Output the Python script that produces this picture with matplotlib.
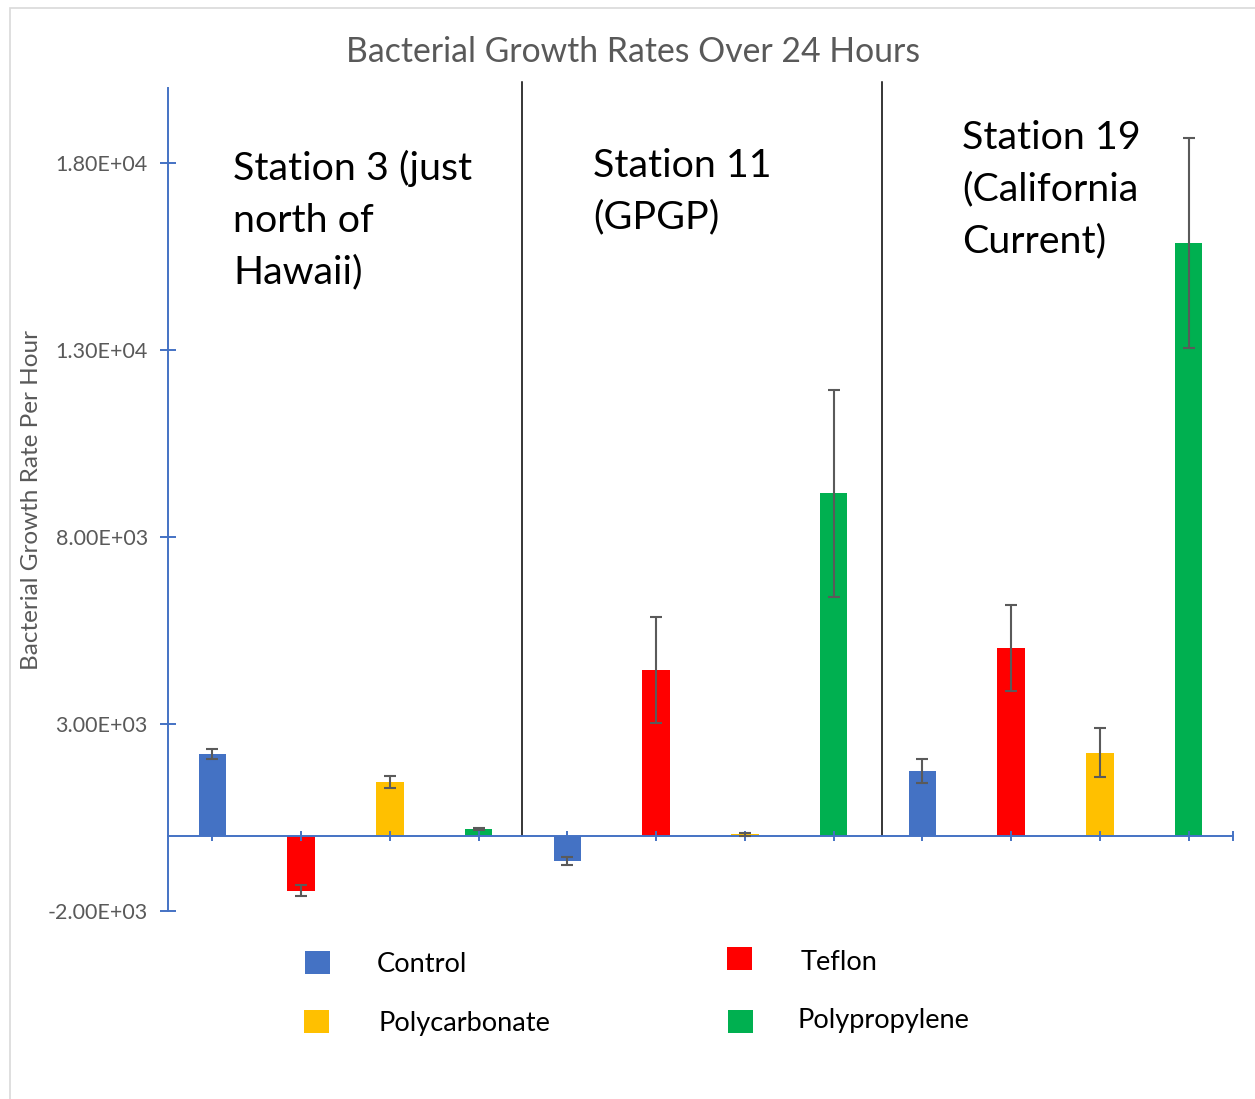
import matplotlib
matplotlib.use("Agg")
import matplotlib.pyplot as plt
from matplotlib.lines import Line2D
from matplotlib.patches import Rectangle
from matplotlib.ticker import FuncFormatter

# ---- data -------------------------------------------------------------
stations = ["Station 3 (just\nnorth of\nHawaii)", "Station 11\n(GPGP)",
            "Station 19\n(California\nCurrent)"]
materials = ["Control", "Teflon", "Polycarbonate", "Polypropylene"]

control = [2188, -670, 1733]
teflon = [-1464, 4446, 5035]
polycarbonate = [1446, 40, 2223]
polypropylene = [187, 9159, 15853]

control_err = [130, 107, 330]
teflon_err = [152, 1415, 1147]
polycarbonate_err = [165, 30, 660]
polypropylene_err = [36, 2760, 2803]

y_ticks = [-2000, 3000, 8000, 13000, 18000]

colors = {"Control": "#4472C4", "Teflon": "#FF0000",
          "Polycarbonate": "#FFC000", "Polypropylene": "#00B050"}

# ---- figure -----------------------------------------------------------
W, H = 1255, 1099
fig = plt.figure(figsize=(W / 100, H / 100), dpi=100)
plt.rcParams["font.family"] = ["Lato", "DejaVu Sans"]


def fx(px):
    return px / W


def fy(py):
    return 1 - py / H


# outer chart border
fig.patches.append(Rectangle((fx(9.5), fy(1200)), 2, fy(7.5) - fy(1200),
                             transform=fig.transFigure, fill=False,
                             edgecolor="#D9D9D9", linewidth=1.2))

ax = fig.add_axes([fx(168), fy(910.7), fx(1233) - fx(168), fy(88.1) - fy(910.7)])

values = [control, teflon, polycarbonate, polypropylene]
errors = [control_err, teflon_err, polycarbonate_err, polypropylene_err]

n_mat = len(materials)
bar_w = 0.312
for s in range(len(stations)):
    for m, name in enumerate(materials):
        x = s * n_mat + m
        ax.bar(x, values[m][s], width=bar_w, color=colors[name], zorder=1)
        ax.errorbar(x, values[m][s], yerr=errors[m][s], fmt="none",
                    ecolor="#5A5A5A", elinewidth=1.5, capsize=4.3,
                    capthick=1.5, zorder=3)

n_cat = len(stations) * n_mat
ax.set_xlim(-0.5, n_cat - 0.5)
ax.set_ylim(-2000, 20000)

# axes styling
axis_blue = "#4472C4"
for side in ("top", "right"):
    ax.spines[side].set_visible(False)
ax.spines["left"].set_color(axis_blue)
ax.spines["left"].set_linewidth(1.4)
ax.spines["bottom"].set_position(("data", 0))
ax.spines["bottom"].set_color(axis_blue)
ax.spines["bottom"].set_linewidth(1.4)
ax.spines["bottom"].set_zorder(2.5)

ax.set_yticks(y_ticks)
ax.yaxis.set_major_formatter(FuncFormatter(
    lambda v, _: "{:.2E}".format(v)))
ax.tick_params(axis="y", direction="inout", length=11, width=1.4,
               color=axis_blue, labelcolor="#595959", labelsize=15.5, pad=9)

ax.set_xticks(list(range(n_cat)) + [n_cat - 0.5])
ax.set_xticklabels([])
ax.tick_params(axis="x", direction="inout", length=7.5, width=1.4,
               color=axis_blue)

# y-axis title
fig.text(fx(32), fy(500), "Bacterial Growth Rate Per Hour", rotation=90,
         ha="center", va="center", fontsize=17.5, color="#595959")

# station separators
for xs in (3.485, 7.55):
    ax.add_line(Line2D([xs, xs], [0, 20160], color="black", linewidth=1.1,
                       clip_on=False, zorder=2))

# title
fig.text(fx(633), fy(52), "Bacterial Growth Rates Over 24 Hours",
         ha="center", va="center", fontsize=24.3, color="#595959")

# station annotations, one line at a time
station_pos = [(233, 180), (593, 177), (962, 149)]
for label, (px, py) in zip(stations, station_pos):
    for i, line in enumerate(label.split("\n")):
        fig.text(fx(px), fy(py + i * 51.5), line, ha="left", va="baseline",
                 fontsize=28.4, color="black")

# legend
legend_items = [
    ("Control", 305, 951, 376.7, 971.7),
    ("Teflon", 727.3, 947, 800.7, 969.7),
    ("Polycarbonate", 304, 1010, 378.3, 1031),
    ("Polypropylene", 728, 1010, 797.3, 1028.3),
]
for name, sx, sy, tx, ty in legend_items:
    fig.patches.append(Rectangle((fx(sx), fy(sy + 23)), 25 / W, 23 / H,
                                 transform=fig.transFigure,
                                 facecolor=colors[name], edgecolor="none"))
    fig.text(fx(tx), fy(ty), name, ha="left", va="baseline", fontsize=19.6,
             color="black")

fig.savefig("out.png", dpi=100)
